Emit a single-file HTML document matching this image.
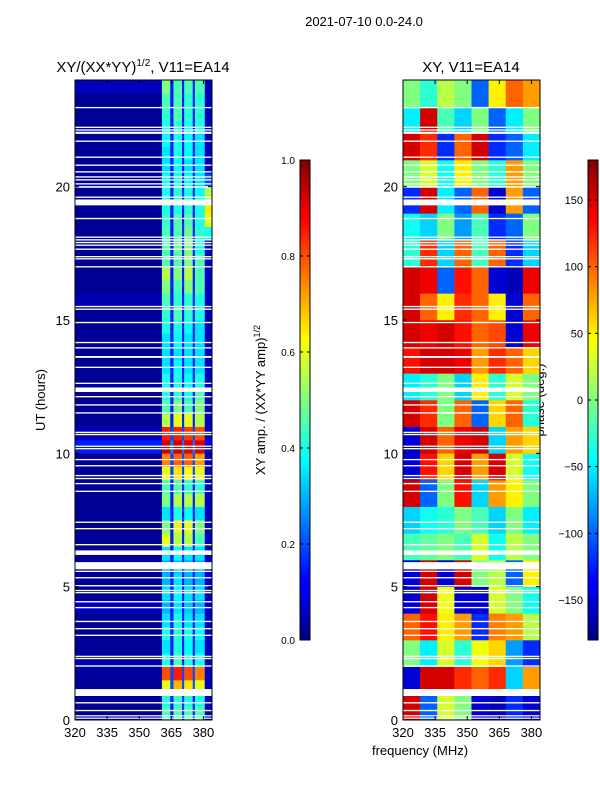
<!DOCTYPE html>
<html><head><meta charset="utf-8"><style>
body{margin:0;background:#fff;}
svg{display:block;font-family:"Liberation Sans",sans-serif;}
</style></head><body>
<svg id="fig" width="600" height="800" xmlns="http://www.w3.org/2000/svg">
<defs>
<linearGradient id="jetg" x1="0" y1="1" x2="0" y2="0">
<stop offset="0" stop-color="#000080"/><stop offset="0.11" stop-color="#0000ff"/><stop offset="0.125" stop-color="#0000ff"/>
<stop offset="0.375" stop-color="#00ffff"/><stop offset="0.5" stop-color="#80ff80"/><stop offset="0.625" stop-color="#ffff00"/>
<stop offset="0.875" stop-color="#ff0000"/><stop offset="1" stop-color="#800000"/>
</linearGradient>
</defs>
<text x="364" y="26" font-size="13" text-anchor="middle">2021-07-10 0.0-24.0</text>
<text x="143" y="72" font-size="15" text-anchor="middle">XY/(XX*YY)<tspan font-size="10" dy="-6">1/2</tspan><tspan dy="6">, V11=EA14</tspan></text>
<text x="471" y="72" font-size="15" text-anchor="middle">XY, V11=EA14</text>
<text transform="translate(45,400) rotate(-90)" font-size="13" text-anchor="middle">UT (hours)</text>
<text transform="translate(265,400) rotate(-90)" font-size="13" text-anchor="middle">XY amp. / (XX*YY amp)<tspan font-size="9" dy="-5">1/2</tspan></text>
<text transform="translate(544,400) rotate(-90)" font-size="13" text-anchor="middle">phase (deg.)</text>
<text x="420" y="755" font-size="13" text-anchor="middle">frequency (MHz)</text>
<g id="left"></g>
<g id="right"></g>
<g id="axes"></g>
</svg>
<script>
// Amplitude panel: columns of frequency edges; each row: [bg, band1, band2, band3, band4, gap, edge]
const ampFreqEdges = [320, 360.6, 364.5, 366, 370, 371, 375, 376, 380.6, 384];
const ampColKey = [0, 1, 5, 2, 5, 3, 5, 4, 6];
const ampRows = [ // half-hour rows from 0 UT upward
[0.02,0.45,0.45,0.45,0.45,0.15,0.06],[0.02,0.4,0.42,0.4,0.4,0.15,0.06],
[0.02,0.6,0.7,0.65,0.6,0.2,0.06],[0.03,0.8,0.85,0.8,0.75,0.2,0.06],
[0.05,0.4,0.45,0.4,0.4,0.15,0.06],[0.02,0.35,0.4,0.38,0.35,0.15,0.06],
[0.02,0.4,0.42,0.4,0.38,0.15,0.06],[0.02,0.35,0.4,0.35,0.35,0.15,0.06],
[0.06,0.3,0.35,0.32,0.3,0.15,0.06],[0.02,0.35,0.38,0.35,0.35,0.15,0.06],
[0.02,0.3,0.35,0.3,0.3,0.15,0.06],[0.02,0.3,0.32,0.3,0.3,0.15,0.06],
[0.02,0.35,0.38,0.35,0.35,0.15,0.06],[0.02,0.6,0.55,0.55,0.45,0.15,0.06],
[0.02,0.5,0.6,0.6,0.5,0.15,0.06],[0.02,0.35,0.4,0.38,0.35,0.15,0.06],
[0.02,0.5,0.55,0.55,0.55,0.15,0.06],[0.02,0.45,0.45,0.42,0.42,0.15,0.06],
[0.02,0.6,0.65,0.62,0.6,0.2,0.06],[0.02,0.75,0.78,0.78,0.72,0.2,0.06],
[0.15,0.92,0.92,0.9,0.9,0.25,0.12],[0.06,0.85,0.85,0.82,0.8,0.2,0.06],
[0.02,0.55,0.6,0.6,0.55,0.15,0.06],[0.02,0.45,0.5,0.45,0.5,0.15,0.06],
[0.02,0.4,0.42,0.4,0.45,0.15,0.06],[0.02,0.4,0.4,0.38,0.4,0.15,0.06],
[0.02,0.35,0.38,0.35,0.35,0.15,0.06],[0.02,0.35,0.35,0.35,0.35,0.15,0.06],
[0.02,0.35,0.38,0.35,0.35,0.15,0.06],[0.02,0.4,0.4,0.38,0.35,0.15,0.06],
[0.02,0.42,0.45,0.42,0.4,0.15,0.06],[0.05,0.45,0.42,0.42,0.4,0.15,0.06],
[0.02,0.5,0.45,0.5,0.45,0.15,0.06],[0.02,0.55,0.5,0.55,0.45,0.15,0.08],
[0.02,0.45,0.45,0.5,0.45,0.15,0.06],[0.02,0.45,0.48,0.5,0.4,0.15,0.06],
[0.02,0.45,0.45,0.48,0.42,0.15,0.4],[0.02,0.42,0.45,0.45,0.4,0.15,0.6],
[0.02,0.4,0.4,0.42,0.4,0.15,0.65],[0.02,0.4,0.42,0.4,0.38,0.15,0.55],
[0.02,0.38,0.4,0.38,0.35,0.15,0.2],[0.02,0.35,0.38,0.35,0.35,0.15,0.06],
[0.02,0.35,0.4,0.38,0.35,0.15,0.06],[0.02,0.38,0.4,0.38,0.35,0.15,0.06],
[0.02,0.4,0.42,0.4,0.4,0.15,0.06],[0.02,0.42,0.45,0.42,0.42,0.15,0.06],
[0.02,0.45,0.45,0.42,0.42,0.15,0.06],[0.06,0.5,0.45,0.45,0.45,0.15,0.06]
];
// Phase panel: 8 MHz columns, hourly rows from 0 UT upward (degrees)
const phaseFreqEdges = [320,328,336,344,352,360,368,376,384];
const phaseRows = [
[150,-100,30,0,-150,-160,-120,-150],
[-150,150,150,120,100,120,-60,80],
[0,-50,30,-30,40,60,-80,-120],
[100,130,50,80,-120,90,80,20],
[-150,150,40,-150,-150,30,0,-40],
[-150,150,-150,150,0,20,-100,50],
[-20,-10,0,-20,30,-40,20,0],
[-60,-40,-30,0,-20,-60,0,-50],
[150,-100,0,130,-60,80,50,0],
[-150,130,60,150,80,150,30,-40],
[-150,150,100,140,150,-60,80,60],
[150,120,0,100,-100,60,100,-30],
[-50,-30,0,-60,50,-30,30,0],
[130,150,150,140,80,120,100,60],
[150,140,150,130,100,110,-150,140],
[150,100,50,120,100,50,-150,100],
[150,140,-100,130,100,-150,-160,140],
[-30,120,-60,100,-20,100,-120,-60],
[-40,-60,0,-80,-20,-120,-100,0],
[-120,150,-50,-100,100,-150,80,-100],
[0,30,-40,50,0,-30,80,0],
[150,120,-120,100,150,-120,-100,-50],
[-50,150,-20,-60,0,-100,-50,0],
[0,-30,20,0,-100,50,100,80]
];
// Flagged (blank) time ranges in UT hours
const flagStart = [0.05,0.14,0.33,0.62,0.9,2.0,2.28,2.36,3.15,3.4,3.67,4.19,4.41,4.75,4.83,5.01,5.31,5.55,5.65,6.19,6.55,7.15,7.39,8.55,8.84,9.03,9.14,9.51,9.74,10.15,10.24,10.68,10.76,11.49,11.79,12.1,12.3,12.6,13.2,13.58,13.93,14.13,14.88,15.38,15.48,16.97,17.27,17.35,17.63,17.78,17.88,17.98,18.08,18.78,19.3,19.58,19.96,20.08,20.23,20.34,20.53,20.78,21.08,21.68,21.98,22.1,22.2,22.94];
const flagEnd   = [0.09,0.18,0.38,0.67,1.16,2.05,2.33,2.41,3.2,3.45,3.72,4.24,4.46,4.8,4.88,5.06,5.36,5.6,5.92,6.36,6.6,7.2,7.44,8.6,8.89,9.08,9.19,9.56,9.79,10.2,10.29,10.73,10.81,11.54,11.84,12.15,12.47,12.65,13.25,13.65,13.98,14.18,14.93,15.43,15.53,17.02,17.32,17.4,17.68,17.83,17.93,18.03,18.13,18.83,19.52,19.63,20.02,20.13,20.28,20.39,20.58,20.83,21.13,21.73,22.06,22.15,22.25,22.99];
const yTicks = [0,5,10,15,20];
const xTicks = [320,335,350,365,380];
const ampCbTicks = [0.0,0.2,0.4,0.6,0.8,1.0];
const phaseCbTicks = [-150,-100,-50,0,50,100,150];

const NS='http://www.w3.org/2000/svg';
function mk(tag,attrs,parent){const e=document.createElementNS(NS,tag);for(const k in attrs)e.setAttribute(k,attrs[k]);parent.appendChild(e);return e;}
function cl(x){return Math.max(0,Math.min(1,x));}
function jet(v){const r=cl(1.5-Math.abs(4*v-3)),g=cl(1.5-Math.abs(4*v-2)),b=cl(1.5-Math.abs(4*v-1));return `rgb(${Math.round(r*255)},${Math.round(g*255)},${Math.round(b*255)})`;}
const panels=[{x0:75,x1:212},{x0:403,x1:540}];
const Y0=720,Y1=80;
function yS(h){return Y0+(Y1-Y0)*h/24;}
function xS(p,f){return p.x0+(f-320)*(p.x1-p.x0)/64;}
const L=document.getElementById('left'),R=document.getElementById('right'),A=document.getElementById('axes');
ampRows.forEach((row,i)=>{
  for(let c=0;c<ampColKey.length;c++){
    const x=xS(panels[0],ampFreqEdges[c]),w=xS(panels[0],ampFreqEdges[c+1])-x;
    const ya=yS((i+1)*0.5),yb=yS(i*0.5);
    const r=mk('rect',{x:x,y:ya,width:w+0.3,height:yb-ya+0.3,fill:jet(row[ampColKey[c]])},L);
    
    
  }
});
phaseRows.forEach((row,i)=>{
  row.forEach((p,c)=>{
    const x=xS(panels[1],phaseFreqEdges[c]),w=xS(panels[1],phaseFreqEdges[c+1])-x;
    const ya=yS(i+1),yb=yS(i);
    const r=mk('rect',{x:x,y:ya,width:w+0.3,height:yb-ya+0.3,fill:jet((p+180)/360)},R);
    
    
  });
});
panels.forEach(p=>{
  flagStart.forEach((s,i)=>{
    const ya=yS(flagEnd[i]),yb=yS(s);
    const r=mk('rect',{x:p.x0,y:ya,width:p.x1-p.x0,height:Math.max(1.2,yb-ya),fill:'#fff'},A);
    
    
  });
});
panels.forEach((p,pi)=>{
  const f=mk('rect',{x:p.x0,y:Y1,width:p.x1-p.x0,height:Y0-Y1,fill:'none',stroke:'#000','stroke-width':1},A);
  
  
  yTicks.forEach(t=>{
    const y=yS(t);
    mk('line',{x1:p.x0,x2:p.x0+4,y1:y,y2:y,stroke:'#000'},A);
    mk('line',{x1:p.x1,x2:p.x1-4,y1:y,y2:y,stroke:'#000'},A);
    const tx=mk('text',{x:p.x0-5,y:y+5,'font-size':13,'text-anchor':'end'},A);
    tx.textContent=t;
    
    
  });
  xTicks.forEach(t=>{
    const x=xS(p,t);
    mk('line',{x1:x,x2:x,y1:Y0,y2:Y0-4,stroke:'#000'},A);
    mk('line',{x1:x,x2:x,y1:Y1,y2:Y1+4,stroke:'#000'},A);
    const tx=mk('text',{x:x,y:737,'font-size':13,'text-anchor':'middle'},A);
    tx.textContent=t;
    
    
  });
});
const cbs=[{x:300,ticks:ampCbTicks,lo:0,hi:1,fmt:v=>v.toFixed(1),name:'amp-colorbar'},{x:588,ticks:phaseCbTicks,lo:-180,hi:180,fmt:v=>v<0?'\u2212'+(-v):String(v),name:'phase-colorbar'}];
cbs.forEach(cb=>{
  const r=mk('rect',{x:cb.x,y:160,width:10,height:480,fill:'url(#jetg)',stroke:'#000','stroke-width':1},A);
  
  
  cb.ticks.forEach(t=>{
    const y=640-480*(t-cb.lo)/(cb.hi-cb.lo);
    mk('line',{x1:cb.x,x2:cb.x+3,y1:y,y2:y,stroke:'#000'},A);
    mk('line',{x1:cb.x+10,x2:cb.x+7,y1:y,y2:y,stroke:'#000'},A);
    const tx=mk('text',{x:cb.x-5,y:y+4,'font-size':cb.lo===0?10:11,'text-anchor':'end'},A);
    tx.textContent=cb.fmt(t);
    
    
  });
});
</script>
</body></html>
